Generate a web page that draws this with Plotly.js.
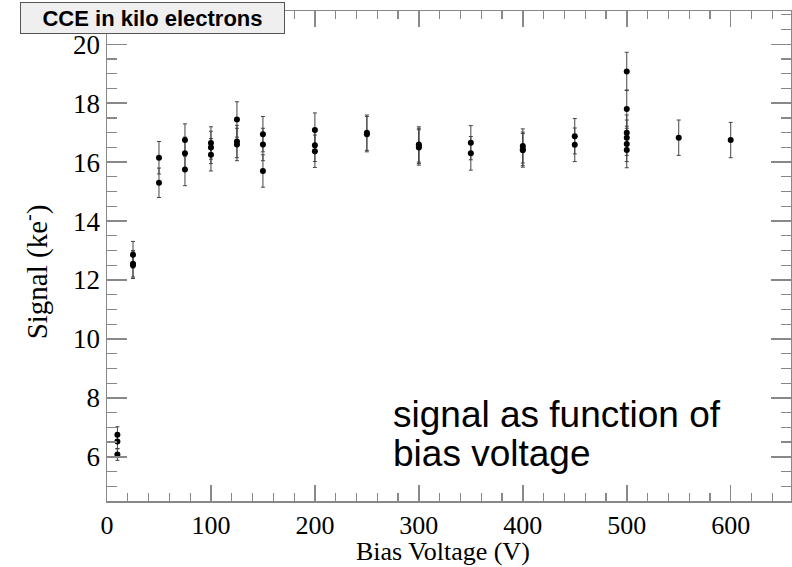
<!DOCTYPE html>
<html>
<head>
<meta charset="utf-8">
<script src="https://cdn.plot.ly/plotly-3.0.1.min.js"></script>
<style>html,body{margin:0;padding:0;background:#fff;}#chart{width:792px;height:567px;}</style>
</head>
<body>
<div id="chart"></div>
<script>
// Bias voltage (V)
var voltage = [10,10,10, 25,25,25, 50,50, 75,75,75, 100,100,100, 125,125,125, 150,150,150,
               200,200,200, 250,250, 300,300,300, 350,350, 400,400,400, 450,450,
               500,500,500,500,500,500, 550, 600];
// Signal (ke-)
var signal = [6.75,6.52,6.08, 12.86,12.55,12.5, 16.15,15.3, 16.75,16.3,15.75, 16.65,16.5,16.25,
              17.45,16.7,16.6, 16.95,16.6,15.7,
              17.09,16.57,16.37, 17.0,16.95, 16.6,16.5,16.55, 16.66,16.3, 16.55,16.45,16.4, 16.88,16.59,
              19.08,17.8,17.0,16.83,16.62,16.41, 16.83, 16.75];
// Error on signal (ke-)
var signalErr = [0.27,0.25,0.2, 0.45,0.45,0.45, 0.55,0.5, 0.55,0.55,0.55, 0.55,0.55,0.55,
                 0.6,0.55,0.55, 0.6,0.55,0.55,
                 0.58,0.55,0.55, 0.6,0.6, 0.6,0.6,0.6, 0.58,0.57, 0.58,0.57,0.57, 0.6,0.57,
                 0.65,0.65,0.6,0.6,0.6,0.6, 0.6, 0.6];

var xTitle = "Bias Voltage (V)";
var yTitle = "Signal (ke<sup>-</sup>)";
var boxTitle = "<b>CCE in kilo electrons</b>";
var noteLines = ["signal as function of", "bias voltage"];

var serif = "Liberation Serif, Times New Roman, serif";
var sans = "Liberation Sans, Arial, sans-serif";

var trace = {
  x: voltage, y: signal, type: 'scatter', mode: 'markers',
  marker: {color: '#000', size: 6},
  error_y: {type: 'data', array: signalErr, visible: true, color: '#444', thickness: 1, width: 2},
  hoverinfo: 'x+y'
};

var layout = {
  width: 792, height: 567,
  margin: {l: 107, r: 1, t: 11, b: 66},
  paper_bgcolor: '#fff', plot_bgcolor: '#fff',
  showlegend: false,
  xaxis: {
    range: [0, 658], dtick: 100, tick0: 0,
    showgrid: false, zeroline: false,
    showline: true, linecolor: '#888', linewidth: 1.5, mirror: 'ticks',
    ticks: 'inside', ticklen: 16, tickcolor: '#888', tickwidth: 1.5,
    minor: {dtick: 20, ticks: 'inside', ticklen: 8, tickcolor: '#888', tickwidth: 1.2},
    tickfont: {family: serif, size: 26, color: '#000'}
  },
  yaxis: {
    range: [4.5, 21.13], dtick: 2, tick0: 0,
    showgrid: false, zeroline: false,
    showline: true, linecolor: '#888', linewidth: 1.5, mirror: 'ticks',
    ticks: 'inside', ticklen: 20, tickcolor: '#888', tickwidth: 1.5,
    minor: {dtick: 0.5, ticks: 'inside', ticklen: 10, tickcolor: '#888', tickwidth: 1.2},
    tickfont: {family: serif, size: 27, color: '#000'}
  },
  annotations: [
    {xref: 'paper', yref: 'paper', x: 0.0665, y: 0.985, xanchor: 'center', yanchor: 'middle',
     text: boxTitle, showarrow: false, font: {family: sans, size: 22, color: '#000'},
     bgcolor: '#efefef', bordercolor: '#555', borderwidth: 1, width: 261, height: 28},
    {xref: 'paper', yref: 'paper', x: 0.4905, y: -0.104, xanchor: 'center', yanchor: 'middle',
     text: xTitle, showarrow: false, font: {family: serif, size: 26, color: '#000'}},
    {xref: 'paper', yref: 'paper', x: -0.105, y: 0.467, xanchor: 'center', yanchor: 'middle',
     text: yTitle, textangle: -90, showarrow: false, font: {family: serif, size: 29, color: '#000'}},
    {xref: 'x', yref: 'y', x: 273, y: 7.45, xanchor: 'left', yanchor: 'middle', align: 'left',
     text: noteLines[0], showarrow: false, font: {family: sans, size: 37, color: '#000'}},
    {xref: 'x', yref: 'y', x: 273, y: 6.1, xanchor: 'left', yanchor: 'middle', align: 'left',
     text: noteLines[1], showarrow: false, font: {family: sans, size: 37, color: '#000'}}
  ]
};

Plotly.newPlot('chart', [trace], layout, {staticPlot: true, displayModeBar: false});
</script>
</body>
</html>
